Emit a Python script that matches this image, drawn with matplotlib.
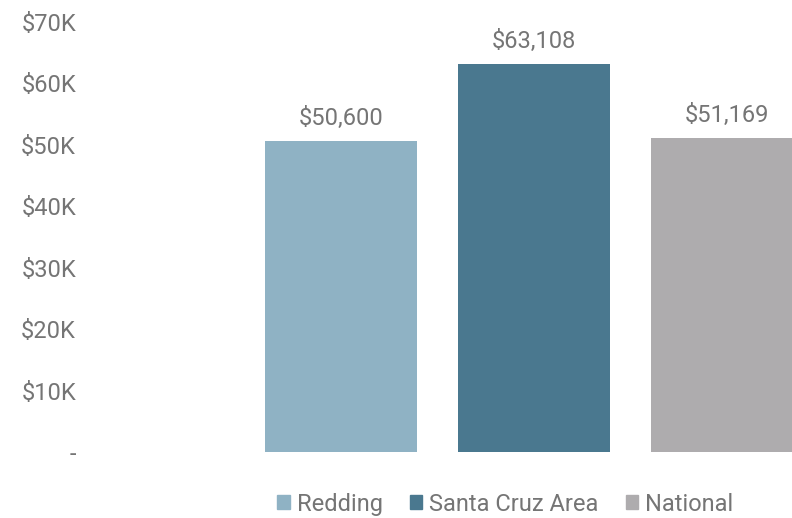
import matplotlib.pyplot as plt
from matplotlib.patches import Patch
from matplotlib.ticker import FuncFormatter

plt.rcParams['font.family'] = ['Roboto', 'DejaVu Sans']

# datos del grafico
categorias = ['Redding', 'Santa Cruz Area', 'National']
valores = [50600, 63108, 51169]
colores = ['#8FB2C4', '#4A788F', '#AEACAE']
etiquetas = ['$50,600', '$63,108', '$51,169']
gris = '#757575'


def fmt_eje(v, pos):
    if v == 0:
        return '-'
    return '${:.0f}K'.format(v / 1000)


fig = plt.figure(figsize=(7.92, 5.18), dpi=100)
ax = fig.add_axes([0.1136, 0.1274, 0.8864, 0.8301])

x = list(range(len(categorias)))
barras = ax.bar(x, valores, width=0.788, color=colores)

for b, txt in zip(barras, etiquetas):
    ax.annotate(txt, (b.get_x() + b.get_width() / 2, b.get_height()),
                xytext=(0, 8), textcoords='offset points',
                ha='center', va='bottom', fontsize=17, color=gris)

ax.set_xlim(-1.30, 2.337)
ax.set_ylim(0, 70000)
ax.set_yticks(range(0, 70001, 10000))
ax.yaxis.set_major_formatter(FuncFormatter(fmt_eje))
ax.tick_params(axis='y', length=0, pad=10, labelsize=17, labelcolor=gris)
ax.set_xticks([])
for s in ax.spines.values():
    s.set_visible(False)

handles = [Patch(color=c) for c in colores]
leg = fig.legend(handles, categorias, loc='center', bbox_to_anchor=(0.638, 0.027),
                 ncol=3, frameon=False, fontsize=17, handlelength=0.52,
                 handleheight=0.52, handletextpad=0.3, columnspacing=1.15)
for t in leg.get_texts():
    t.set_color(gris)

fig.savefig('out.png', dpi=100)
